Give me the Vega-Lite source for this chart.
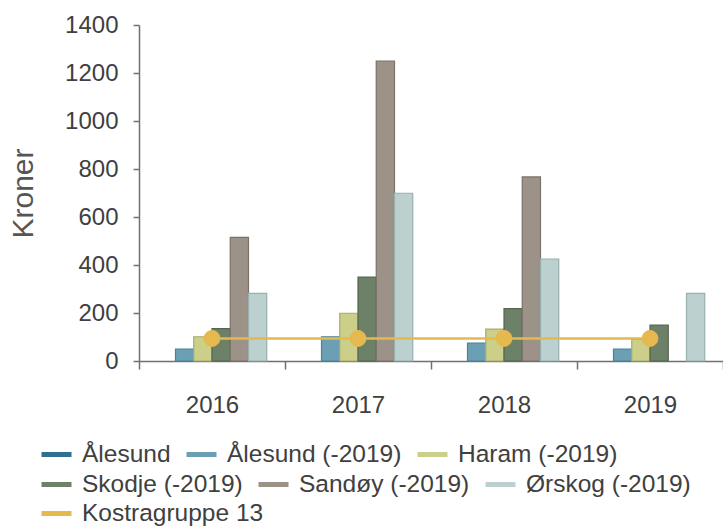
{
  "$schema": "https://vega.github.io/schema/vega-lite/v6.json",
  "width": 584,
  "height": 336,
  "autosize": {"type": "none"},
  "padding": {"left": 139, "top": 25, "right": 0, "bottom": 165},
  "background": "white",
  "config": {
    "view": {"stroke": null},
    "font": "Liberation Sans",
    "axis": {"labelFont": "Liberation Sans", "titleFont": "Liberation Sans", "domainColor": "#707070", "domainWidth": 1.5, "tickColor": "#707070", "tickWidth": 1.5, "labelColor": "#404040"},
    "legend": {"title": null, "orient": "none", "direction": "horizontal", "symbolType": "stroke", "symbolSize": 900, "symbolStrokeWidth": 5, "labelFontSize": 24.5, "labelColor": "#404040", "labelOffset": 8, "columnPadding": 5, "labelLimit": 400, "labelFont": "Liberation Sans"}
  },
  "datasets": {
    "bars": [
      {"year": "2016", "series": "Ålesund (-2019)", "value": 50},
      {"year": "2016", "series": "Haram (-2019)", "value": 101},
      {"year": "2016", "series": "Skodje (-2019)", "value": 135},
      {"year": "2016", "series": "Sandøy (-2019)", "value": 515},
      {"year": "2016", "series": "Ørskog (-2019)", "value": 282},
      {"year": "2017", "series": "Ålesund (-2019)", "value": 101},
      {"year": "2017", "series": "Haram (-2019)", "value": 199},
      {"year": "2017", "series": "Skodje (-2019)", "value": 350},
      {"year": "2017", "series": "Sandøy (-2019)", "value": 1250},
      {"year": "2017", "series": "Ørskog (-2019)", "value": 699},
      {"year": "2018", "series": "Ålesund (-2019)", "value": 75},
      {"year": "2018", "series": "Haram (-2019)", "value": 133},
      {"year": "2018", "series": "Skodje (-2019)", "value": 218},
      {"year": "2018", "series": "Sandøy (-2019)", "value": 767},
      {"year": "2018", "series": "Ørskog (-2019)", "value": 425},
      {"year": "2019", "series": "Ålesund (-2019)", "value": 50},
      {"year": "2019", "series": "Haram (-2019)", "value": 90},
      {"year": "2019", "series": "Skodje (-2019)", "value": 150},
      {"year": "2019", "series": "Ørskog (-2019)", "value": 282}
    ],
    "line": [
      {"year": "2016", "series": "Kostragruppe 13", "value": 94},
      {"year": "2017", "series": "Kostragruppe 13", "value": 94},
      {"year": "2018", "series": "Kostragruppe 13", "value": 94},
      {"year": "2019", "series": "Kostragruppe 13", "value": 94}
    ]
  },
  "resolve": {"legend": {"color": "independent"}},
  "layer": [
    {
      "data": {"name": "bars"},
      "mark": {"type": "bar", "strokeWidth": 1.2},
      "encoding": {
        "x": {
          "field": "year", "type": "nominal",
          "scale": {"paddingInner": 0, "paddingOuter": 0},
          "axis": {"title": null, "labelAngle": 0, "labelFontSize": 24, "tickSize": 8, "labelPadding": 24, "tickBand": "extent"}
        },
        "xOffset": {
          "field": "series",
          "scale": {"domain": ["Ålesund", "Ålesund (-2019)", "Haram (-2019)", "Skodje (-2019)", "Sandøy (-2019)", "Ørskog (-2019)"], "paddingInner": 0, "paddingOuter": 1.41}
        },
        "y": {
          "field": "value", "type": "quantitative",
          "scale": {"domain": [0, 1400]},
          "axis": {"values": [0, 200, 400, 600, 800, 1000, 1200, 1400], "format": "d", "grid": false, "tickSize": 6, "labelPadding": 15, "labelFontSize": 24, "title": "Kroner", "titleFontSize": 30, "titleFontWeight": "normal", "titleColor": "#555555", "titlePadding": 26}
        },
        "color": {
          "field": "series", "type": "nominal",
          "scale": {
            "domain": ["Ålesund", "Ålesund (-2019)", "Haram (-2019)", "Skodje (-2019)", "Sandøy (-2019)", "Ørskog (-2019)", "Kostragruppe 13"],
            "range": ["#2f6f8f", "#6a9fb4", "#cccf8a", "#6d8068", "#9c9288", "#bcd0d0", "#e5b94e"]
          },
          "legend": {"values": ["Ålesund", "Ålesund (-2019)", "Haram (-2019)"], "legendX": -100, "legendY": 412,
            "encode": {"symbols": {"update": {"stroke": {"scale": "color", "field": "value"}, "strokeWidth": {"value": 5}}}}}
        },
        "stroke": {
          "field": "series", "type": "nominal",
          "scale": {
            "domain": ["Ålesund", "Ålesund (-2019)", "Haram (-2019)", "Skodje (-2019)", "Sandøy (-2019)", "Ørskog (-2019)"],
            "range": ["#25586f", "#4f8298", "#a9ab66", "#56654f", "#7a7168", "#97b0b0"]
          },
          "legend": null
        }
      }
    },
    {
      "data": {"name": "line"},
      "mark": {"type": "line", "strokeWidth": 2.5},
      "encoding": {
        "x": {"field": "year", "type": "nominal"},
        "y": {"field": "value", "type": "quantitative"},
        "color": {"field": "series", "type": "nominal", "legend": {"values": ["Skodje (-2019)", "Sandøy (-2019)", "Ørskog (-2019)"], "legendX": -100, "legendY": 442,
          "encode": {"symbols": {"update": {"stroke": {"scale": "color", "field": "value"}, "strokeWidth": {"value": 5}}}}}}
      }
    },
    {
      "data": {"name": "line"},
      "mark": {"type": "point", "filled": false, "fill": "#e5b94e", "fillOpacity": 1, "strokeWidth": 1, "size": 254, "opacity": 1},
      "encoding": {
        "x": {"field": "year", "type": "nominal"},
        "y": {"field": "value", "type": "quantitative"},
        "color": {"field": "series", "type": "nominal", "legend": {"values": ["Kostragruppe 13"], "legendX": -100, "legendY": 471,
          "encode": {"symbols": {"update": {"stroke": {"scale": "color", "field": "value"}, "strokeWidth": {"value": 5}}}}}}
      }
    }
  ]
}
